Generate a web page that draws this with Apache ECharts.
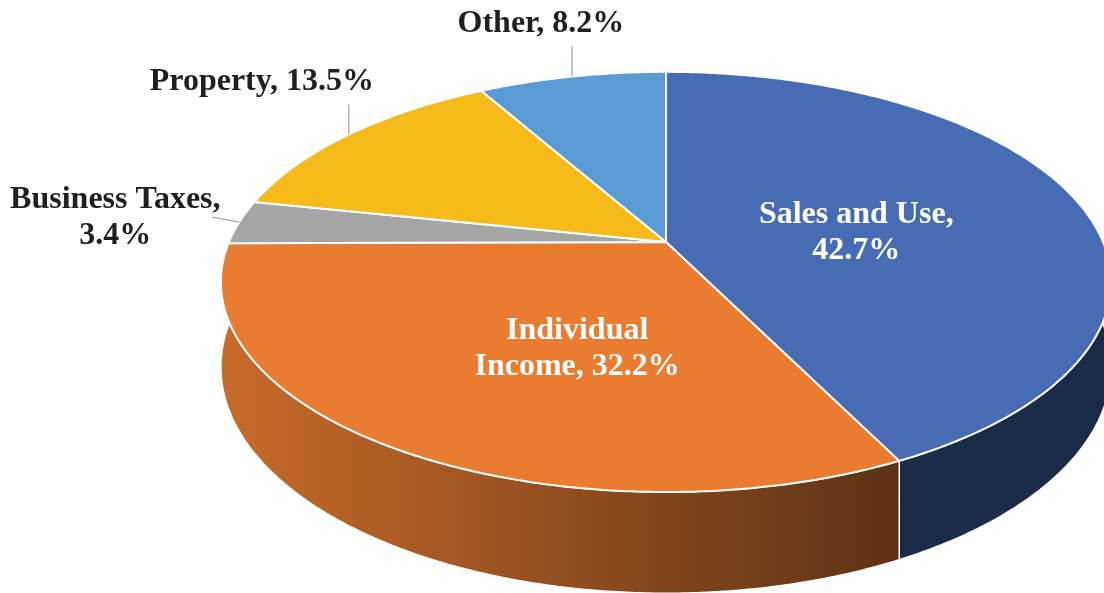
<!DOCTYPE html>
<html>
<head>
<meta charset="utf-8">
<script src="https://cdn.jsdelivr.net/npm/echarts@6/dist/echarts.min.js"></script>
<style>
  html, body { margin: 0; padding: 0; background: #fff; }
  #chart { width: 1104px; height: 593px; }
</style>
</head>
<body>
<div id="chart"></div>
<script>
const categories = ["Sales and Use", "Individual Income", "Business Taxes", "Property", "Other"]
const shares = [42.7, 32.2, 3.4, 13.5, 8.2]

const palette = ["#476cb4", "#e97c31", "#a5a5a5", "#f5bb1a", "#5b9bd5"]

// tilted disc layout, in pixels
const CX = 666, CY = 242
const RX = 437, RY = 202.5
const PERSP = 0.19
const DEPTH = 82
const FONT = '"Liberation Serif", "Times New Roman", serif'
// label nudges relative to their anchor point
const labelNudge = [[-18, 13], [36, 13], [-97, 1], [-87, -23], [-31, -23]]

const total = shares.reduce((s, v) => s + v, 0)
const starts = []
let acc = 0
shares.forEach((v) => {
  starts.push((acc / total) * 360)
  acc += v
})

// theta: degrees clockwise from 12 o'clock, r: fraction of radius, drop: depth below top
function project(theta, r, drop) {
  const t = (theta * Math.PI) / 180
  const u = Math.sin(t) * r
  const v = Math.cos(t) * r
  const k = 1 / (1 + PERSP * v)
  return [CX + RX * u * k, CY - RY * v * k + drop * k]
}

function arc(a0, a1, drop) {
  const pts = []
  const n = Math.max(2, Math.ceil((a1 - a0) / 0.5))
  for (let i = 0; i <= n; i++) pts.push(project(a0 + ((a1 - a0) * i) / n, 1, drop))
  return pts
}

function shade(hex, f) {
  const n = parseInt(hex.slice(1), 16)
  const c = [(n >> 16) & 255, (n >> 8) & 255, n & 255].map((x) => Math.round(x * f))
  return "rgb(" + c.join(",") + ")"
}

const measure = document.createElement("canvas").getContext("2d")
measure.font = "bold 32px " + FONT
function wrap(text, maxW) {
  const words = text.split(" ")
  const lines = []
  let line = ""
  words.forEach((w) => {
    const test = line ? line + " " + w : w
    if (line && measure.measureText(test).width > maxW) {
      lines.push(line)
      line = w
    } else {
      line = test
    }
  })
  lines.push(line)
  return lines.join("\n")
}

function renderItem(params, api) {
  const i = params.dataIndex
  const value = api.value(1)
  const a0 = starts[i]
  const a1 = a0 + (value / total) * 360
  const children = []

  // outer wall, only the front half shows
  const w0 = Math.max(a0, 90)
  const w1 = Math.min(a1, 270)
  if (w1 > w0) {
    const top = arc(w0, w1, 0)
    const bottom = arc(w0, w1, DEPTH).reverse()
    children.push({
      type: "polygon",
      z2: 1,
      shape: { points: top.concat(bottom) },
      style: {
        fill: new echarts.graphic.LinearGradient(220, 0, 900, 0, [
          { offset: 0, color: shade(palette[i], 0.86) },
          { offset: 1, color: shade(palette[i], 0.4) },
        ], true),
        stroke: "#fff",
        lineWidth: 1.5,
        lineJoin: "round",
      },
    })
  }

  // top face
  children.push({
    type: "polygon",
    z2: 5,
    shape: { points: [[CX, CY]].concat(arc(a0, a1, 0)) },
    style: { fill: palette[i], stroke: "#fff", lineWidth: 2, lineJoin: "round" },
  })

  const mid = (a0 + a1) / 2
  const text = wrap(categories[i] + ", " + value.toFixed(1) + "%", 240)
  const nudge = labelNudge[i]
  let x, y, fill
  if (value >= 20) {
    const p = project(mid, 0.5, 0)
    x = p[0] + nudge[0]
    y = p[1] + nudge[1]
    fill = "#fff"
  } else {
    const edge = project(mid, 1, 0)
    const side = Math.abs(Math.sin((mid * Math.PI) / 180)) > 0.9
    const end = side ? [edge[0] - 27, edge[1] - 5] : [edge[0], edge[1] - 30]
    children.push({
      type: "polyline",
      z2: 8,
      shape: { points: [edge, end] },
      style: { stroke: "#a6a6a6", lineWidth: 1.3, fill: null },
    })
    x = end[0] + nudge[0]
    y = end[1] + nudge[1]
    fill = "#1f1f1f"
  }
  children.push({
    type: "text",
    z2: 10,
    x: x,
    y: y,
    style: {
      text: text,
      fill: fill,
      fontFamily: FONT,
      fontWeight: "bold",
      fontSize: 32,
      lineHeight: 36,
      align: "center",
      verticalAlign: "middle",
    },
  })

  return { type: "group", children: children }
}

const chart = echarts.init(document.getElementById("chart"))
chart.setOption({
  animation: false,
  series: [
    {
      type: "custom",
      coordinateSystem: "none",
      renderItem: renderItem,
      data: categories.map((c, i) => ({ name: c, value: [i, shares[i]] })),
    },
  ],
})
</script>
</body>
</html>
